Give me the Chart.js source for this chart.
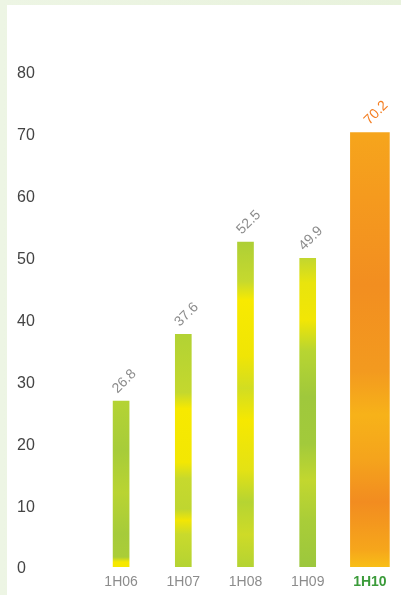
<!DOCTYPE html>
<html lang="en">
<head>
    <meta charset="UTF-8">
    <title>1H06 - 1H10</title>
    <script src="https://cdn.jsdelivr.net/npm/chart.js"></script>
    <style>
        html, body { margin: 0; padding: 0; }
        body {
            width: 401px; height: 595px; overflow: hidden; position: relative;
            background: linear-gradient(90deg, #edf5e4 0%, #e8f2dc 100%);
        }
        #panel { position: absolute; left: 7px; top: 5px; width: 394px; height: 590px; background: #fff; }
        canvas { display: block; }
    </style>
</head>
<body>
    <div id="panel"><canvas id="chart" width="394" height="590"></canvas></div>

    <script>
        // data
        const periods = ["1H06", "1H07", "1H08", "1H09", "1H10"];
        const values = [26.8, 37.6, 52.5, 49.9, 70.2];
        const yTicks = [0, 10, 20, 30, 40, 50, 60, 70, 80];
        const highlight = 4; // last half-year is drawn wide and orange

        // colour stops for the mottled bar fills (top -> bottom)
        const barStops = [
            [[0, "#b4d334"], [0.3, "#a7cc39"], [0.55, "#b9d432"], [0.8, "#a6cb3a"], [0.94, "#aacd37"], [0.97, "#f6e800"], [1, "#f6e800"]],
            [[0, "#b2d234"], [0.25, "#c4d82e"], [0.32, "#f7e900"], [0.55, "#f3e703"], [0.62, "#c7d92d"], [0.75, "#bfd630"], [0.8, "#f2e605"], [0.86, "#c9da2c"], [1, "#b4d333"]],
            [[0, "#aecf36"], [0.12, "#c6d92e"], [0.18, "#f8ea00"], [0.35, "#f0e505"], [0.45, "#d2dd22"], [0.55, "#f6e800"], [0.7, "#e4e214"], [0.8, "#b6d432"], [0.9, "#cedb27"], [1, "#b4d333"]],
            [[0, "#c2d72f"], [0.08, "#e9e40d"], [0.2, "#f2e605"], [0.3, "#b8d531"], [0.45, "#9fc83c"], [0.6, "#a2ca3b"], [0.72, "#c2d72f"], [0.85, "#a9cd38"], [1, "#9cc73d"]],
            [[0, "#f6a51c"], [0.15, "#f59a1e"], [0.35, "#f28e20"], [0.55, "#f39a1f"], [0.65, "#f7b219"], [0.75, "#f5a41c"], [0.85, "#f28c20"], [0.96, "#f6a61b"], [1, "#f8be17"]]
        ];

        function barFill(context) {
            const chart = context.chart;
            const y = chart.scales.y;
            const i = context.dataIndex;
            if (!y || context.raw == null) return "#a6cb3a";
            const top = y.getPixelForValue(context.raw);
            const bottom = y.getPixelForValue(0);
            if (!isFinite(top) || !isFinite(bottom) || top === bottom) return "#a6cb3a";
            const g = chart.ctx.createLinearGradient(0, top, 0, bottom);
            barStops[i].forEach(([p, c]) => g.addColorStop(p, c));
            return g;
        }

        // rotated value labels above each bar
        const valueLabels = {
            id: "valueLabels",
            afterDatasetsDraw(chart) {
                const ctx = chart.ctx;
                chart.data.datasets.forEach((ds, d) => {
                    chart.getDatasetMeta(d).data.forEach((bar, i) => {
                        if (ds.data[i] == null) return;
                        ctx.save();
                        ctx.translate(bar.x + (i === highlight ? 9 : 6), bar.y - 17);
                        ctx.rotate(-Math.PI / 4);
                        ctx.font = "14px 'Liberation Sans', Arial, sans-serif";
                        ctx.fillStyle = i === highlight ? "#f47d20" : "#8c8c8c";
                        ctx.textAlign = "center";
                        ctx.textBaseline = "alphabetic";
                        ctx.fillText(ds.data[i].toFixed(1), 0, 0);
                        ctx.restore();
                    });
                });
            }
        };

        new Chart(document.getElementById("chart"), {
            type: "bar",
            data: {
                labels: periods,
                datasets: [
                    {
                        data: values.map((v, i) => i === highlight ? null : v),
                        backgroundColor: barFill,
                        barThickness: 16,
                        grouped: false
                    },
                    {
                        data: values.map((v, i) => i === highlight ? v : null),
                        backgroundColor: barFill,
                        barThickness: 39,
                        grouped: false
                    }
                ]
            },
            options: {
                responsive: false,
                animation: false,
                layout: { padding: { top: 67, left: 10, right: 0, bottom: 0 } },
                plugins: { legend: { display: false }, tooltip: { enabled: false } },
                scales: {
                    x: {
                        grid: { display: false, drawTicks: false },
                        border: { display: false },
                        ticks: {
                            padding: 7,
                            color: ctx => ctx.index === highlight ? "#3b9b3a" : "#8c8c8c",
                            font: ctx => ({
                                family: "'Liberation Sans', Arial, sans-serif",
                                size: 14,
                                weight: ctx.index === highlight ? "bold" : "normal"
                            })
                        },
                        afterFit: s => { s.height = 28; }
                    },
                    y: {
                        min: yTicks[0],
                        max: yTicks[yTicks.length - 1],
                        afterBuildTicks: s => { s.ticks = yTicks.map(v => ({ value: v })); },
                        grid: { display: false, drawTicks: false },
                        border: { display: false },
                        ticks: {
                            crossAlign: "far",
                            labelOffset: 2,
                            color: "#444",
                            font: { family: "'Liberation Sans', Arial, sans-serif", size: 16, lineHeight: 1.0 }
                        },
                        afterFit: s => { s.width = 73; }
                    }
                }
            },
            plugins: [valueLabels]
        });
    </script>
</body>
</html>
